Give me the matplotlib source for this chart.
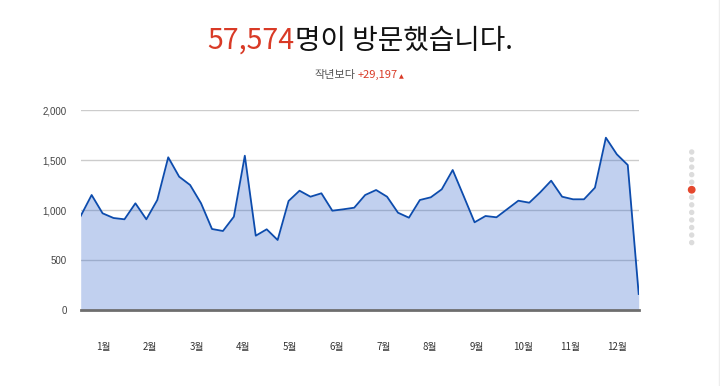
import matplotlib
matplotlib.use("Agg")
import matplotlib.pyplot as plt
import matplotlib.patches as mpatches
import matplotlib.lines as mlines
import numpy as np

plt.rcParams['font.family'] = ['Noto Sans CJK KR', 'DejaVu Sans']

# weekly visitors
visitors = [940, 1150, 967, 920, 907, 1067, 907, 1100, 1527, 1333,
            1250, 1067, 810, 790, 933, 1543, 743, 807, 700, 1090,
            1193, 1133, 1167, 993, 1007, 1023, 1150, 1200, 1133, 973,
            923, 1100, 1127, 1207, 1400, 1140, 877, 940, 927, 1010,
            1093, 1073, 1177, 1293, 1133, 1107, 1107, 1223, 1723, 1557,
            1450, 160]
month_labels = ['1월', '2월', '3월', '4월', '5월', '6월', '7월', '8월', '9월', '10월', '11월', '12월']
y_ticks = [0, 500, 1000, 1500, 2000]
y_tick_labels = ['0', '500', '1,000', '1,500', '2,000']
total_text = '57,574'
title_rest = '명이 방문했습니다.'
sub_label = '작년보다'
sub_value = '+29,197'

RED = '#d93a26'
fig = plt.figure(figsize=(7.2, 3.86), dpi=100)
ax = fig.add_axes([80.7 / 720, (386 - 310) / 386, (638.7 - 80.7) / 720, 200 / 386])

x = np.arange(len(visitors))
ax.set_xlim(0, len(visitors) - 1)
ax.set_ylim(0, 2000)
for t in y_ticks[1:]:
    ax.axhline(t, color='#cccccc', lw=1, zorder=1)
ax.fill_between(x, visitors, 0, color='#3366cc', alpha=0.3, lw=0, zorder=2)
ax.plot(x, visitors, color='#0d4cad', lw=1.3, zorder=3)
ax.axhline(0, color='#6e6e6e', lw=2, zorder=4, clip_on=False)

for s in ax.spines.values():
    s.set_visible(False)
ax.set_yticks(y_ticks)
ax.set_yticklabels(y_tick_labels, fontsize=7, color='#444444', family=['Liberation Sans'])
month_pos = [2.04 + i * 4.27 for i in range(len(month_labels))]
ax.set_xticks(month_pos)
ax.set_xticklabels(month_labels, fontsize=7, color='#333333')
ax.tick_params(axis='both', length=0)
ax.tick_params(axis='y', pad=10)
ax.tick_params(axis='x', pad=23)

# title with two colours
renderer = fig.canvas.get_renderer()
t1 = fig.text(0, 0, total_text, fontsize=20.5, color=RED, va='baseline', fontweight='light')
t2 = fig.text(0, 0, title_rest, fontsize=20, color='#111111', va='baseline', fontweight='light')
w1 = t1.get_window_extent(renderer).width
w2 = t2.get_window_extent(renderer).width
start = 360 - (w1 + w2) / 2
base_y = (386 - 49) / 386
t1.set_position((start / 720, base_y))
t2.set_position(((start + w1) / 720, base_y))

s1 = fig.text(0, 0, sub_label, fontsize=8, color='#555555', va='baseline')
s2 = fig.text(0, 0, sub_value, fontsize=8, color=RED, va='baseline')
s3 = fig.text(0, 0, '▲', fontsize=4.5, color=RED, va='baseline', family=['DejaVu Sans'])
ws = [t.get_window_extent(renderer).width for t in (s1, s2, s3)]
gap = 2.5
sx = 360 - (sum(ws) + 2 * gap) / 2
sb = (386 - 78) / 386
s1.set_position((sx / 720, sb))
s2.set_position(((sx + ws[0] + gap) / 720, sb))
s3.set_position(((sx + ws[0] + ws[1] + gap + 1) / 720, sb))

# pager dots on the right
dot_y = [152 + i * 7.55 for i in range(13)]
for i, yy in enumerate(dot_y):
    if i == 5:
        fig.add_artist(mpatches.Ellipse((691.7 / 720, (386 - yy) / 386), 6.4 / 720, 6.4 / 386,
                                        transform=fig.transFigure, color='#e4472d'))
    else:
        fig.add_artist(mpatches.Ellipse((691.7 / 720, (386 - yy) / 386), 4 / 720, 4 / 386,
                                        transform=fig.transFigure, color='#dcdcdc'))
fig.add_artist(mlines.Line2D([719 / 720, 719 / 720], [0, 1], transform=fig.transFigure,
                             color='#eeeeee', lw=1))

fig.savefig('out.png', dpi=100)
